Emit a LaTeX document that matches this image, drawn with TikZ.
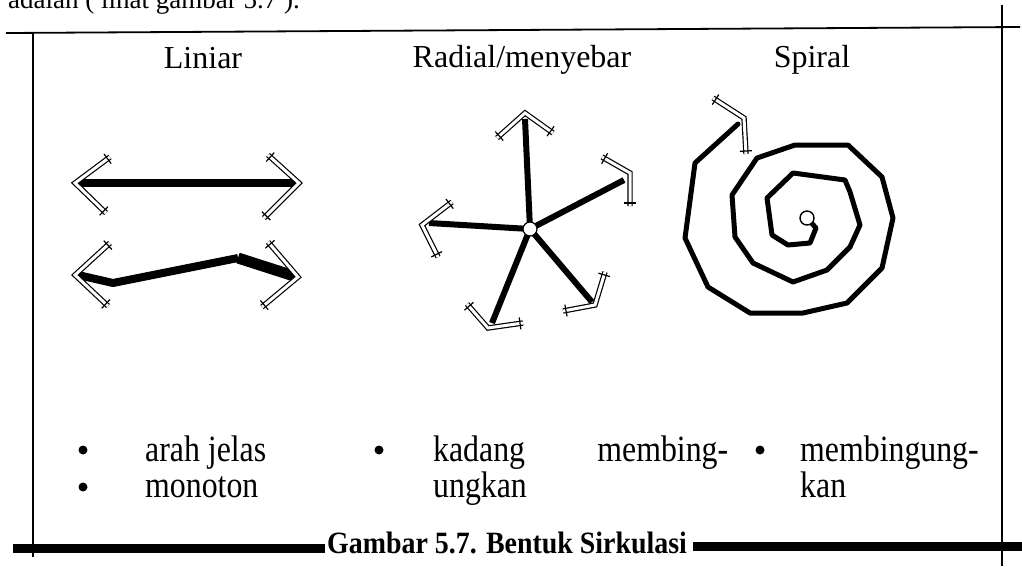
\documentclass[tikz,border=0pt]{standalone}
\usepackage{fontspec}
\setmainfont{Liberation Serif}
\newfontfamily\itemfont{Liberation Serif}[FakeStretch=0.86]
\newfontfamily\capfont{Liberation Serif}[FakeStretch=0.9]
\usetikzlibrary{calc}
\newcommand\headV[3]{%
  \draw[armband] (#1) -- (#2) -- (#3);
  \draw[armtick] ($(#1)!3pt!(#2)!6pt!90:(#2)$) -- ($(#1)!3pt!(#2)!6pt!-90:(#2)$);
  \draw[armtick] ($(#3)!3pt!(#2)!6pt!90:(#2)$) -- ($(#3)!3pt!(#2)!6pt!-90:(#2)$);
}
\tikzset{
  frameline/.style={line width=1.8pt},
  shaft/.style={line width=8pt, line join=round},
  spokeline/.style={line width=6pt},
  spiralline/.style={line width=5pt, line join=round, line cap=round},
  armband/.style={draw=black, double=white, double distance=3pt, line width=1.2pt, line join=miter},
  armtick/.style={line width=1.2pt},
  title/.style={font=\fontsize{32}{38}\selectfont, anchor=base, inner sep=0},
  itemtext/.style={font=\itemfont\fontsize{37}{44}\selectfont, anchor=base west, inner sep=0},
  itemdot/.style={circle, fill=black, inner sep=0, minimum size=9pt},
  captiontext/.style={font=\capfont\bfseries\fontsize{31}{36}\selectfont, anchor=base west, inner sep=0},
  captionbar/.style={line width=9pt},
  toptext/.style={font=\fontsize{27}{32}\selectfont, anchor=base west, inner sep=0},
  hubring/.style={circle, draw=black, fill=white, line width=1.2pt, inner sep=0, minimum size=14pt},
}
\begin{document}
\begin{tikzpicture}[x=1pt,y=-1pt]
\useasboundingbox (0,0) rectangle (1022,566);
\clip (0,0) rectangle (1022,566);

% cut-off line of running text above the box
\node[toptext] (intro) at (8,8) {adalah ( lihat gambar 5.7 ).};

% frame
\coordinate (TL) at (6,33); \coordinate (TR) at (1020,27);
\draw[frameline] (TL) -- (TR);
\coordinate (LT) at (33,32); \coordinate (LB) at (33,557);
\draw[frameline] (LT) -- (LB);
\coordinate (RT) at (1002,5); \coordinate (RB) at (1002,566);
\draw[frameline] (RT) -- (RB);

% titles
\node[title] (tLin) at (203,68) {Liniar};
\node[title] (tRad) at (522,67) {Radial/menyebar};
\node[title] (tSpi) at (812,67) {Spiral};

% ---------- Liniar ----------
\coordinate (a1L) at (75,183); \coordinate (a1R) at (299,183);
\draw[shaft] ($(a1L)+(3,0)$) -- ($(a1R)+(-4,0)$);
\coordinate (a1Lu) at (110,157); \coordinate (a1Ld) at (106,213);
\coordinate (a1Ru) at (268,155); \coordinate (a1Rd) at (264,218);
\headV{a1Lu}{a1L}{a1Ld}
\headV{a1Ru}{a1R}{a1Rd}

\coordinate (a2L) at (75,275); \coordinate (a2R) at (298,277);
\coordinate (w1) at (113,283); \coordinate (w2) at (238,258);
\draw[shaft] ($(a2L)+(3,0)$) -- (w1) -- (w2);
\draw[line width=11pt] (w2) -- ($(a2R)+(-4,-1)$);
\coordinate (a2Lu) at (110,243); \coordinate (a2Ld) at (108,306);
\coordinate (a2Ru) at (268,242); \coordinate (a2Rd) at (262,307);
\headV{a2Lu}{a2L}{a2Ld}
\headV{a2Ru}{a2R}{a2Rd}

% ---------- Radial ----------
\coordinate (hubc) at (530,229);
\coordinate (s1) at (525,119); \coordinate (s2) at (624,180);
\coordinate (s3) at (429,223); \coordinate (s4) at (492,323);
\coordinate (s5) at (592,302);
\foreach \s in {s1,s2,s3,s4,s5} \draw[spokeline] (hubc) -- (\s);
\node[hubring] (hub) at (hubc) {};
\coordinate (h1) at (525,113); \coordinate (h1a) at (497,138); \coordinate (h1b) at (553,133);
\coordinate (h2) at (630,173); \coordinate (h2a) at (602,157); \coordinate (h2b) at (630,206);
\coordinate (h3) at (422,225); \coordinate (h3a) at (452,202); \coordinate (h3b) at (438,257);
\coordinate (h4) at (488,328); \coordinate (h4a) at (467,304); \coordinate (h4b) at (523,323);
\coordinate (h5) at (595,305); \coordinate (h5a) at (605,272); \coordinate (h5b) at (563,311);
\headV{h1a}{h1}{h1b}
\headV{h2a}{h2}{h2b}
\headV{h3a}{h3}{h3b}
\headV{h4a}{h4}{h4b}
\headV{h5a}{h5}{h5b}

% ---------- Spiral ----------
\coordinate (sp) at (744,118);
\coordinate (spc) at (807,218);
\draw[spiralline] (738,124) -- (695,163) -- (685,238) -- (708,287) -- (750,313)
  -- (803,313) -- (847,303) -- (882,268) -- (893,218) -- (882,177) -- (848,145)
  -- (795,145) -- (757,158) -- (732,195) -- (735,237) -- (753,263) -- (793,282)
  -- (827,270) -- (850,247) -- (860,225) -- (850,192) -- (845,180) -- (793,173)
  -- (767,198) -- (772,235) -- (788,245) -- (810,243) -- (816,228) -- (spc);
\node[hubring, minimum size=14pt, line width=1.4pt] (spiralEye) at (spc) {};
\coordinate (spa) at (713,98); \coordinate (spb) at (746,154);
\headV{spa}{sp}{spb}

% ---------- bullet lists ----------
\node[itemdot] (d1) at (83,450) {};
\node[itemtext] (l1) at (145,461) {arah jelas};
\node[itemdot] (d2) at (83,487) {};
\node[itemtext] (l2) at (145,497) {monoton};
\node[itemdot] (d3) at (379,450) {};
\node[itemtext] (r1) at (433,461) {\makebox[295pt][l]{kadang\hfill membing-}};
\node[itemtext] (r2) at (433,497) {ungkan};
\node[itemdot] (d4) at (760,450) {};
\node[itemtext] (q1) at (800,461) {membingung-};
\node[itemtext] (q2) at (800,497) {kan};

% ---------- caption ----------
\node[captiontext] (cap) at (327,553) {Gambar 5.7. Bentuk Sirkulasi};
\coordinate (barL0) at (13,548); \coordinate (barL1) at (325,548);
\coordinate (barR0) at (693,546); \coordinate (barR1) at (1022,546);
\draw[captionbar] (barL0) -- (barL1);
\draw[captionbar] (barR0) -- (barR1);
\end{tikzpicture}
\end{document}
